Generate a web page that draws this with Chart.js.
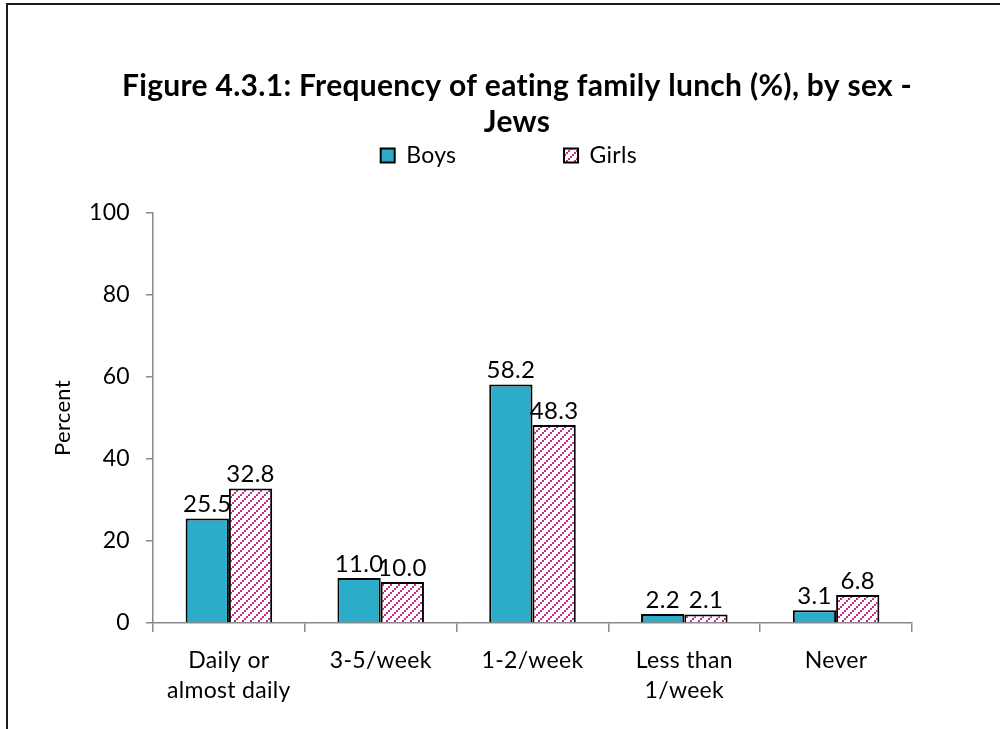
<!DOCTYPE html>
<html>
<head>
<meta charset="utf-8">
<script src="https://cdn.jsdelivr.net/npm/chart.js@4.4.0/dist/chart.umd.min.js"></script>
<style>
    html, body { margin: 0; padding: 0; background: #fff; overflow: hidden; }
    #frame { position: absolute; left: 6px; top: 3px; width: 1100px; height: 800px; border: 2px solid #1a1a1a; box-sizing: border-box; }
    #wrap { position: absolute; left: 0; top: 0; width: 1000px; height: 729px; }
</style>
</head>
<body>
<div id="frame"></div>
<div id="wrap"><canvas id="lunchChart" width="1000" height="729"></canvas></div>
<script>
const categories = [['Daily or', 'almost daily'], '3-5/week', '1-2/week', ['Less than', '1/week'], 'Never'];
const boysValues = [25.5, 11.0, 58.2, 2.2, 3.1];
const girlsValues = [32.8, 10.0, 48.3, 2.1, 6.8];
const yTicks = [0, 20, 40, 60, 80, 100];
const titleLines = ['Figure 4.3.1: Frequency of eating family lunch (%), by sex -', 'Jews'];

const boysColor = '#2badc9';
const girlsStripe = '#c42e86';
const axisGray = '#8a8a8a';
const fontFamily = 'Lato, "Open Sans", sans-serif';

function stripePattern() {
    const size = 8;
    const tile = document.createElement('canvas');
    tile.width = size;
    tile.height = size;
    const g = tile.getContext('2d');
    g.fillStyle = '#fff';
    g.fillRect(0, 0, size, size);
    g.fillStyle = girlsStripe;
    // staircase of small squares, lower left to upper right
    for (let k = 0; k < 4; k++) {
        g.fillRect(2 * k, 6 - 2 * k, 2, 2);
    }
    return g.createPattern(tile, 'repeat');
}

// a little letter spacing keeps Lato from joining "ti" into a ligature
const textSpacing = {
    id: 'textSpacing',
    beforeDraw(chart) {
        chart.ctx.letterSpacing = '0.3px';
    }
};

const valueLabels = {
    id: 'valueLabels',
    afterDatasetsDraw(chart) {
        const ctx = chart.ctx;
        ctx.save();
        ctx.font = `24px ${fontFamily}`;
        ctx.fillStyle = '#000';
        ctx.textAlign = 'center';
        ctx.textBaseline = 'bottom';
        chart.data.datasets.forEach((ds, i) => {
            chart.getDatasetMeta(i).data.forEach((bar, j) => {
                ctx.fillText(ds.data[j].toFixed(1), bar.x, bar.y - 2);
            });
        });
        ctx.restore();
    }
};

const legendGaps = ['\u2003\u2003\u2003\u2003\u2003\u2002\u2006', '\u2003\u2006'];

const ctx = document.getElementById('lunchChart').getContext('2d');
new Chart(ctx, {
    type: 'bar',
    data: {
        labels: categories,
        datasets: [
            {
                label: 'Boys',
                data: boysValues,
                backgroundColor: boysColor,
                borderColor: '#000',
                borderWidth: 2,
            },
            {
                label: 'Girls',
                data: girlsValues,
                backgroundColor: stripePattern(),
                borderColor: '#000',
                borderWidth: 2,
            },
        ],
    },
    plugins: [textSpacing, valueLabels],
    options: {
        responsive: false,
        animation: false,
        layout: { padding: { left: 34, right: 0, top: 0, bottom: 0 } },
        datasets: {
            bar: { categoryPercentage: 0.57, barPercentage: 1 },
        },
        plugins: {
            title: {
                display: true,
                text: titleLines,
                color: '#000',
                font: { family: fontFamily, size: 30, weight: 'bold', lineHeight: 36 / 30 },
                padding: { top: 68, bottom: 0 },
            },
            legend: {
                display: true,
                position: 'top',
                labels: {
                    color: '#000',
                    font: { family: fontFamily, size: 23 },
                    boxWidth: 14,
                    boxHeight: 14,
                    padding: 4,
                    generateLabels(chart) {
                        const items = Chart.defaults.plugins.legend.labels.generateLabels(chart);
                        items.forEach((item, i) => { item.text = item.text + legendGaps[i]; });
                        return items;
                    },
                },
            },
            subtitle: {
                // empty spacer under the legend
                display: true,
                text: '',
                weight: 500,
                font: { size: 1, lineHeight: 1 },
                padding: { top: 0, bottom: 35 },
            },
            tooltip: { enabled: false },
        },
        scales: {
            x: {
                grid: { display: true, drawOnChartArea: false, offset: true, tickLength: 9, color: axisGray, lineWidth: 1.5 },
                border: { color: axisGray, width: 1.5 },
                ticks: { color: '#000', font: { family: fontFamily, size: 23, lineHeight: 30 / 23 }, padding: 14, maxRotation: 0, autoSkip: false },
                afterFit(scale) { scale.height = 106; },
            },
            y: {
                min: 0,
                max: 100,
                afterBuildTicks(scale) { scale.ticks = yTicks.map((v) => ({ value: v })); },
                grid: { display: true, drawOnChartArea: false, tickLength: 7, color: axisGray, lineWidth: 1.5 },
                border: { color: axisGray, width: 1.5 },
                ticks: { color: '#000', font: { family: fontFamily, size: 23 }, padding: 16 },
                title: { display: true, text: 'Percent', color: '#000', font: { family: fontFamily, size: 22 }, padding: { top: 16, bottom: 0 } },
                afterFit(scale) { scale.width = 119; },
            },
            yRight: {
                position: 'right',
                display: true,
                grid: { display: false },
                border: { display: false },
                ticks: { display: false },
                afterFit(scale) { scale.width = 88; },
            },
        },
    },
});
</script>
</body>
</html>
